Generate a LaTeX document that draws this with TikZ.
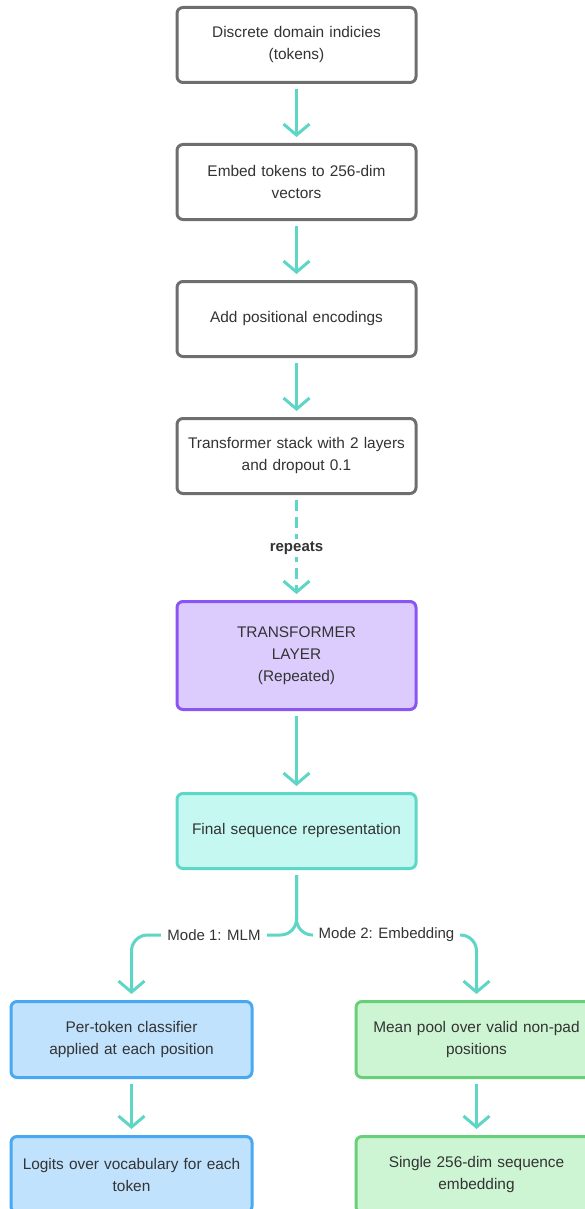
\documentclass[tikz,border=0pt]{standalone}
\usepackage{fontspec}
\setmainfont{Liberation Sans}
\usetikzlibrary{arrows.meta}
\definecolor{teal}{HTML}{5DD6C6}
\definecolor{grayb}{HTML}{6E6E6E}
\definecolor{txt}{HTML}{333333}
\definecolor{purb}{HTML}{8A55F2}
\definecolor{purf}{HTML}{DCCCFD}
\definecolor{cyab}{HTML}{5DD8C8}
\definecolor{cyaf}{HTML}{C4F8F1}
\definecolor{blub}{HTML}{48A8F2}
\definecolor{bluf}{HTML}{C0E2FD}
\definecolor{greb}{HTML}{68D079}
\definecolor{gref}{HTML}{CDF5D3}
\tikzset{
  box/.style={draw=grayb, fill=white, line width=3pt, rounded corners=6pt,
    minimum width=239pt, minimum height=75pt, text width=232pt, align=center,
    font=\fontsize{15.4}{22}\selectfont, text=txt, inner sep=0pt},
  purbox/.style={box, draw=purb, fill=purf, minimum height=108pt},
  cyabox/.style={box, draw=cyab, fill=cyaf},
  blubox/.style={box, draw=blub, fill=bluf, minimum width=241pt, minimum height=76pt},
  grebox/.style={box, draw=greb, fill=gref, minimum width=241pt, minimum height=76pt},
  flow/.style={draw=teal, line width=3pt, -{Straight Barb[length=11pt,width=26pt]}, shorten >=6pt, shorten <=5pt},
  lbl/.style={fill=white, text=txt, font=\fontsize{15}{16}\selectfont, inner xsep=6pt, inner ysep=3pt},
}
\begin{document}
\begin{tikzpicture}[x=1pt,y=-1pt]
\useasboundingbox (0,0) rectangle (585,1209);
\node[box] (n1) at (296.5,45) {Discrete domain indicies\\(tokens)};
\node[box] (n2) at (296.5,182) {Embed tokens to 256-dim\\vectors};
\node[box] (n3) at (296.5,319) {Add positional encodings};
\node[box] (n4) at (296.5,456) {Transformer stack with 2 layers\\and dropout 0.1};
\node[purbox] (n5) at (296.5,655.5) {TRANSFORMER\\LAYER\\(Repeated)};
\node[cyabox] (n6) at (296.5,831) {Final sequence representation};
\node[blubox] (l1) at (131.5,1039.5) {Per-token classifier\\applied at each position};
\node[blubox] (l2) at (131.5,1174.5) {Logits over vocabulary for each\\token};
\node[grebox] (r1) at (476.5,1039.5) {Mean pool over valid non-pad\\positions};
\node[grebox] (r2) at (476.5,1174.5) {Single 256-dim sequence\\embedding};

\draw[flow] (n1) -- (n2);
\draw[flow] (n2) -- (n3);
\draw[flow] (n3) -- (n4);
\draw[flow, dash pattern=on 11pt off 6pt] (n4) -- (n5);
\node[lbl, font=\bfseries\fontsize{15}{16}\selectfont] (rep) at (296.5,548) {repeats};
\draw[flow] (n5) -- (n6);
\draw[flow] (l1) -- (l2);
\draw[flow] (r1) -- (r2);

\coordinate (j) at (296.5,935);
\draw[flow, rounded corners=16pt] (n6.south) -- (j) -- (l1.north |- j) -- (l1.north);
\draw[flow, rounded corners=16pt] (n6.south) -- (j) -- (r1.north |- j) -- (r1.north);
\node[lbl] (m1) at (214,935) {Mode 1: MLM};
\node[lbl] (m2) at (386.5,935) {Mode 2: Embedding};
\end{tikzpicture}
\end{document}
